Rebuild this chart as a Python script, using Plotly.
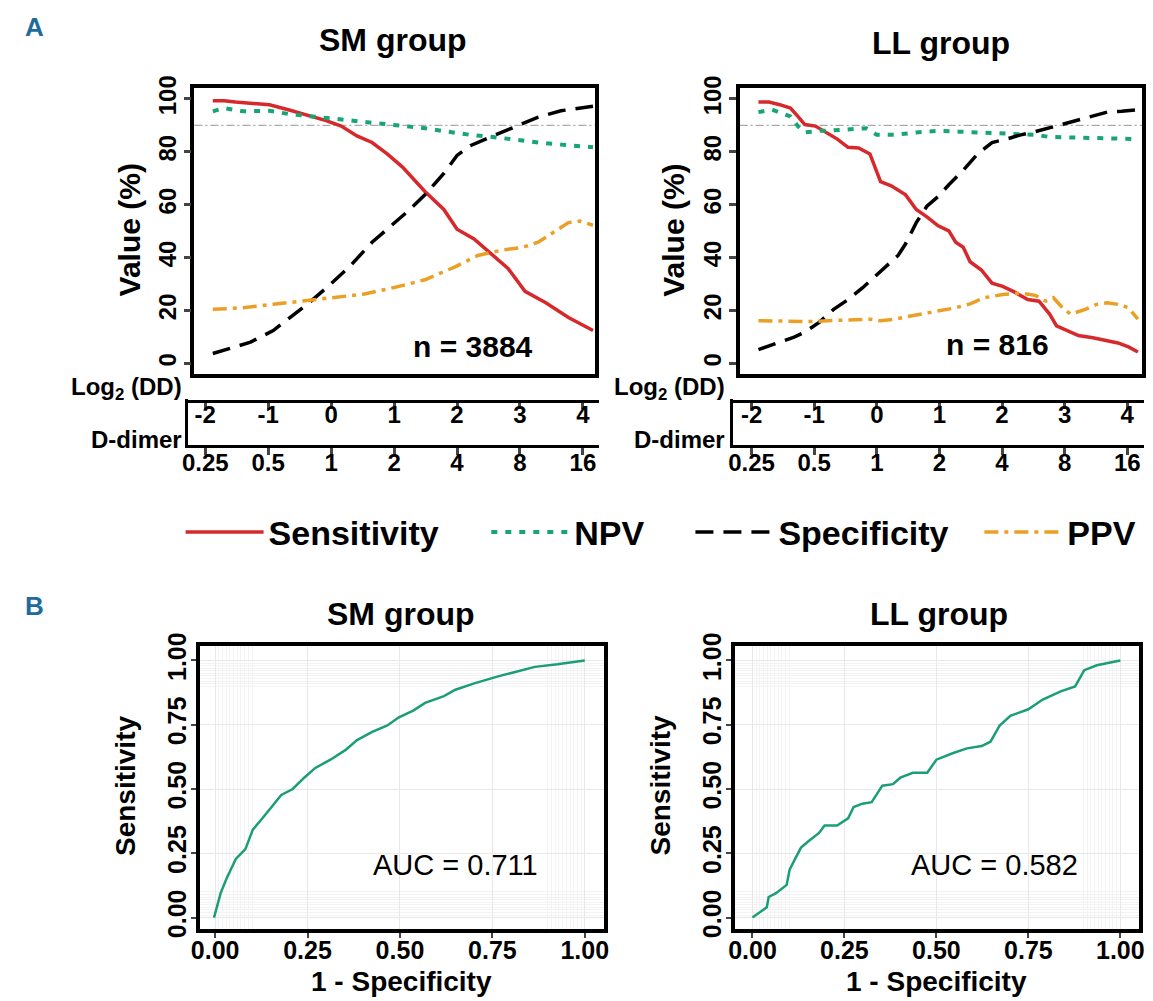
import math
import plotly.graph_objects as go

W, H = 1153, 1001
def fx(p): return p / W
def fy(p): return 1 - p / H

# ---------------- data: panel A, SM group ----------------
sm_sens_x = [-1.88, -1.70, -1.52, -1.28, -0.98, -0.68, -0.38, -0.08, 0.16, 0.41, 0.65, 0.89, 1.13, 1.37, 1.49, 1.79, 2.00, 2.27, 2.57, 2.81, 3.08, 3.41, 3.77, 4.16]
sm_sens   = [99.3, 99.3, 98.8, 98.3, 97.8, 95.9, 93.8, 91.8, 89.7, 86.0, 83.5, 79.2, 74.3, 68.0, 65.0, 58.2, 50.7, 47.0, 40.8, 35.9, 27.2, 22.9, 17.3, 12.4]
sm_npv_x  = [-1.88, -1.70, -1.40, -0.98, -0.68, -0.32, 0.04, 0.41, 0.77, 1.13, 1.49, 1.85, 2.21, 2.57, 2.93, 3.29, 3.65, 4.16]
sm_npv    = [95.3, 96.5, 95.3, 95.5, 94.3, 93.4, 92.5, 91.3, 90.6, 89.7, 88.9, 87.6, 86.4, 85.6, 84.4, 83.5, 82.7, 81.7]
sm_spec_x = [-1.88, -1.52, -1.28, -0.92, -0.56, -0.32, -0.02, 0.29, 0.65, 0.89, 1.19, 1.49, 1.79, 2.00, 2.21, 2.57, 2.93, 3.29, 3.65, 4.16]
sm_spec   = [3.7, 6.2, 8.0, 12.4, 19.2, 23.5, 29.7, 36.5, 45.8, 50.7, 56.9, 63.7, 71.8, 78.6, 82.3, 86.0, 89.7, 93.1, 95.5, 97.2]
sm_ppv_x  = [-1.88, -1.40, -0.92, -0.44, 0.04, 0.53, 1.01, 1.49, 1.97, 2.33, 2.69, 3.05, 3.29, 3.53, 3.77, 3.95, 4.16]
sm_ppv    = [20.4, 21.0, 22.3, 23.5, 24.8, 26.2, 28.7, 31.6, 36.5, 40.8, 42.7, 43.9, 45.8, 49.5, 53.2, 53.8, 52.2]

# ---------------- data: panel A, LL group ----------------
ll_sens_x = [-1.89, -1.72, -1.55, -1.38, -1.26, -1.15, -0.98, -0.80, -0.63, -0.46, -0.29, -0.11, -0.03, 0.06, 0.23, 0.34, 0.46, 0.63, 0.80, 0.98, 1.15, 1.26, 1.38, 1.49, 1.67, 1.84, 2.01, 2.18, 2.41, 2.59, 2.76, 2.87, 3.05, 3.22, 3.45, 3.68, 3.85, 4.02, 4.17]
ll_sens   = [98.8, 98.8, 97.8, 96.5, 93.4, 90.3, 89.7, 87.3, 84.8, 81.7, 81.4, 79.2, 74.3, 68.7, 67.1, 65.6, 63.7, 58.2, 55.4, 52.0, 50.1, 45.8, 43.9, 38.4, 35.3, 30.3, 29.1, 27.2, 24.1, 23.5, 18.6, 14.2, 12.4, 10.5, 9.7, 8.7, 7.7, 6.2, 4.3]
ll_npv_x  = [-1.89, -1.67, -1.38, -1.26, -1.15, -0.92, -0.69, -0.34, -0.17, 0.00, 0.29, 0.63, 0.98, 1.32, 1.72, 2.18, 2.53, 2.76, 3.33, 4.17]
ll_npv    = [95.0, 95.9, 93.4, 89.7, 87.3, 87.9, 88.1, 88.5, 88.9, 86.4, 86.4, 87.3, 87.9, 87.6, 87.3, 86.9, 86.4, 85.6, 85.4, 84.8]
ll_spec_x = [-1.89, -1.61, -1.32, -1.15, -0.92, -0.69, -0.46, -0.23, 0.00, 0.23, 0.34, 0.46, 0.63, 0.80, 0.98, 1.15, 1.38, 1.61, 1.84, 2.07, 2.30, 2.53, 2.76, 2.99, 3.22, 3.45, 3.68, 3.91, 4.17]
ll_spec   = [5.2, 7.4, 9.9, 11.8, 15.5, 20.4, 24.1, 28.5, 33.4, 38.4, 40.8, 45.2, 53.2, 59.4, 63.1, 67.5, 73.0, 79.2, 83.5, 84.8, 86.4, 87.6, 89.1, 90.6, 92.2, 93.8, 95.0, 95.3, 95.9]
ll_ppv_x  = [-1.89, -1.49, -1.03, -0.57, -0.11, 0.06, 0.29, 0.63, 0.98, 1.26, 1.49, 1.72, 2.01, 2.30, 2.53, 2.70, 2.82, 2.99, 3.10, 3.33, 3.51, 3.68, 3.85, 4.02, 4.17]
ll_ppv    = [16.1, 16.1, 15.8, 16.3, 16.7, 16.1, 16.7, 18.3, 19.8, 21.0, 22.5, 24.8, 26.0, 26.6, 25.7, 23.5, 24.8, 20.4, 18.6, 20.4, 22.3, 22.9, 22.3, 21.0, 16.7]

reference_level = 90
log2_ticks = [-2, -1, 0, 1, 2, 3, 4]
log2_labels = ["-2", "-1", "0", "1", "2", "3", "4"]
dd_ticks = [0.25, 0.5, 1, 2, 4, 8, 16]
dd_labels = ["0.25", "0.5", "1", "2", "4", "8", "16"]
value_ticks = [0, 20, 40, 60, 80, 100]

# ---------------- data: panel B, ROC ----------------
sm_fpr = [-0.003, 0.015, 0.031, 0.056, 0.082, 0.102, 0.128, 0.159, 0.179, 0.21, 0.241, 0.271, 0.312, 0.353, 0.384, 0.425, 0.466, 0.496, 0.537, 0.568, 0.619, 0.65, 0.701, 0.763, 0.814, 0.865, 0.926, 1.0]
sm_tpr = [0.0, 0.095, 0.152, 0.228, 0.266, 0.342, 0.386, 0.443, 0.477, 0.5, 0.544, 0.582, 0.614, 0.652, 0.69, 0.722, 0.747, 0.778, 0.806, 0.835, 0.861, 0.886, 0.911, 0.937, 0.956, 0.975, 0.985, 1.0]
ll_fpr = [0.0, 0.039, 0.044, 0.064, 0.093, 0.101, 0.118, 0.132, 0.152, 0.181, 0.196, 0.23, 0.26, 0.275, 0.299, 0.324, 0.353, 0.382, 0.402, 0.436, 0.475, 0.5, 0.544, 0.583, 0.623, 0.647, 0.672, 0.701, 0.75, 0.789, 0.838, 0.877, 0.902, 0.936, 1.0]
ll_tpr = [0.0, 0.04, 0.08, 0.095, 0.127, 0.186, 0.234, 0.272, 0.297, 0.329, 0.358, 0.358, 0.386, 0.43, 0.443, 0.449, 0.513, 0.519, 0.544, 0.563, 0.563, 0.614, 0.639, 0.658, 0.667, 0.684, 0.747, 0.785, 0.81, 0.848, 0.88, 0.899, 0.962, 0.981, 1.0]
roc_ticks = [0, 0.25, 0.5, 0.75, 1.0]
roc_labels = ["0.00", "0.25", "0.50", "0.75", "1.00"]

series_names = ["Sensitivity", "NPV", "Specificity", "PPV"]
auc_sm, auc_ll = "0.711", "0.582"
n_sm, n_ll = 3884, 816

# ---------------- styles ----------------
C_SENS, C_NPV, C_SPEC, C_PPV = "#d7282b", "#17a673", "#000000", "#eaa024"
C_ROC = "#1b9e77"
styles = {
    "Sensitivity": dict(color=C_SENS, width=3.5, dash="solid"),
    "NPV": dict(color=C_NPV, width=4, dash="6px,8px"),
    "Specificity": dict(color=C_SPEC, width=3.5, dash="18px,10px"),
    "PPV": dict(color=C_PPV, width=3.5, dash="14px,6px,4px,6px"),
}
legend_ids = {"Sensitivity": "legend", "NPV": "legend2", "Specificity": "legend3", "PPV": "legend4"}
legend_px = {"Sensitivity": 183, "NPV": 493, "Specificity": 700, "PPV": 993}
FONT = "Liberation Sans"

fig = go.Figure()

panels_a = [
    ("x", "y", [(sm_sens_x, sm_sens), (sm_npv_x, sm_npv), (sm_spec_x, sm_spec), (sm_ppv_x, sm_ppv)], True),
    ("x2", "y2", [(ll_sens_x, ll_sens), (ll_npv_x, ll_npv), (ll_spec_x, ll_spec), (ll_ppv_x, ll_ppv)], False),
]
for xa, ya, data, show in panels_a:
    for name, (xs, ys) in zip(series_names, data):
        fig.add_trace(go.Scatter(x=xs, y=ys, mode="lines", name=name, line=styles[name],
                                 xaxis=xa, yaxis=ya, showlegend=show, legend=legend_ids[name],
                                 hoverinfo="skip"))

fig.add_trace(go.Scatter(x=sm_fpr, y=sm_tpr, mode="lines", line=dict(color=C_ROC, width=2.5),
                         xaxis="x3", yaxis="y3", showlegend=False))
fig.add_trace(go.Scatter(x=ll_fpr, y=ll_tpr, mode="lines", line=dict(color=C_ROC, width=2.5),
                         xaxis="x4", yaxis="y4", showlegend=False))

# invisible traces that realise the two secondary scale axes under each panel
for xa, ya, xs in [("x5", "y7", log2_ticks), ("x6", "y5", dd_ticks),
                   ("x7", "y8", log2_ticks), ("x8", "y6", dd_ticks)]:
    fig.add_trace(go.Scatter(x=xs, y=[0.5] * len(xs), mode="markers", marker=dict(opacity=0),
                             xaxis=xa, yaxis=ya, showlegend=False, hoverinfo="skip"))

tick_font = dict(family=FONT, size=24, color="black", weight="bold")
box = dict(showline=True, linecolor="black", mirror=True, zeroline=False, showgrid=False)

def a_x(l, r, lo_tick, hi_tick):
    per = (hi_tick - lo_tick) / 6.0
    return dict(domain=[fx(l), fx(r)], range=[-2 - (lo_tick - l) / per, 4 + (r - hi_tick) / per],
                showticklabels=False, ticks="", linewidth=3.5, **box)

def a_y(anchor):
    return dict(domain=[fy(369), fy(77)], range=[-4, 104], anchor=anchor, tickvals=value_ticks,
                ticks="outside", ticklen=7, tickwidth=2.5, tickangle=-90, tickfont=tick_font,
                ticklabelstandoff=-2, linewidth=3.5, **box)

layout = dict(
    width=W, height=H, margin=dict(l=0, r=0, t=0, b=0),
    plot_bgcolor="rgba(0,0,0,0)", paper_bgcolor="white",
    xaxis=dict(anchor="y", **a_x(187, 593, 198, 581)),
    yaxis=a_y("x"),
    xaxis2=dict(anchor="y2", **a_x(740, 1148, 752, 1133)),
    yaxis2=a_y("x2"),
)

def sec_axes(l, r, lo_tick, hi_tick, ya_box, ya_line, xa_log2):
    per = (hi_tick - lo_tick) / 6.0
    rng = [-2 - (lo_tick - l) / per, 4 + (r - hi_tick) / per]
    common = dict(domain=[fx(l), fx(r)], showline=True, linecolor="black", linewidth=2.5,
                  ticks="outside", tickwidth=2.5, tickfont=tick_font,
                  showgrid=False, zeroline=False)
    ax_log2 = dict(anchor=ya_line, range=rng, tickvals=log2_ticks, ticktext=log2_labels,
                   ticklen=6, ticklabelstandoff=-14, **common)
    ax_dd = dict(anchor=ya_box, type="log", range=[math.log10(2 ** rng[0]), math.log10(2 ** rng[1])],
                 tickvals=dd_ticks, ticktext=dd_labels, ticklen=7, ticklabelstandoff=-13, **common)
    ax_box = dict(domain=[fy(442), fy(395)], anchor=xa_log2, range=[0, 1], showline=True,
                  linecolor="black", linewidth=2.5, showticklabels=False, ticks="",
                  showgrid=False, zeroline=False)
    ax_line = dict(domain=[fy(395.5), fy(395)], anchor=xa_log2, range=[0, 1], visible=False)
    return ax_log2, ax_dd, ax_box, ax_line

layout["xaxis5"], layout["xaxis6"], layout["yaxis5"], layout["yaxis7"] = sec_axes(181, 597, 198, 581, "y5", "y7", "x5")
layout["xaxis7"], layout["xaxis8"], layout["yaxis6"], layout["yaxis8"] = sec_axes(733, 1150, 752, 1133, "y6", "y8", "x7")

minor_vals = [i / 100 for i in range(0, 11)] + [i / 100 for i in range(90, 101)]
def roc_axis(dom, rng, anchor, is_y):
    d = dict(domain=dom, range=rng, anchor=anchor, tickvals=roc_ticks, ticktext=roc_labels,
             ticks="outside", ticklen=5, tickwidth=2,
             tickfont=dict(family=FONT, size=25, color="black", weight="bold"),
             ticklabelstandoff=-9 if not is_y else -5,
             showline=True, linecolor="black", linewidth=4, mirror=True, zeroline=False,
             showgrid=True, gridcolor="#e8e8e8", gridwidth=1,
             minor=dict(tickvals=minor_vals, showgrid=True, gridcolor="#f3f3f3", gridwidth=0.6, ticks=""))
    if is_y:
        d["tickangle"] = -90
    return d

layout["xaxis3"] = roc_axis([fx(193), fx(602)], [-0.04, 1.051], "y3", False)
layout["yaxis3"] = roc_axis([fy(937), fy(647)], [-0.046, 1.057], "x3", True)
layout["xaxis4"] = roc_axis([fx(735), fx(1145)], [-0.048, 1.051], "y4", False)
layout["yaxis4"] = roc_axis([fy(937), fy(647)], [-0.046, 1.057], "x4", True)

for name in series_names:
    layout[legend_ids[name]] = dict(orientation="h", x=fx(legend_px[name] - 10), y=fy(531),
                                    xanchor="left", yanchor="middle", itemwidth=78,
                                    font=dict(family=FONT, size=34, color="black", weight="bold"),
                                    bgcolor="rgba(0,0,0,0)")

fig.update_layout(**layout)

for ref in ["x", "x2"]:
    ya = "y" if ref == "x" else "y2"
    fig.add_shape(type="line", xref=f"{ref} domain", yref=ya, x0=0, x1=1, y0=reference_level, y1=reference_level,
                  line=dict(color="#aaaaaa", width=1.2, dash="8px,3px,2px,3px"), layer="below")

def ann(text, x, y, size, bold=True, color="black", xanchor="center", angle=0):
    fig.add_annotation(text=text, x=fx(x), y=fy(y), xref="paper", yref="paper", showarrow=False,
                       xanchor=xanchor, yanchor="middle", textangle=angle,
                       font=dict(family=FONT, size=size, color=color, weight="bold" if bold else "normal"))

PANEL_BLUE = "#1f6c9c"
ann("A", 13, 14, 26, color=PANEL_BLUE, xanchor="left")
ann("B", 13, 606, 26, color=PANEL_BLUE, xanchor="left")
ann("SM group", 388, 28, 32)
ann("LL group", 944, 31, 32)
ann("SM group", 397, 614, 32)
ann("LL group", 942, 614, 32)
ann("Value (%)", 121, 222, 30, angle=-90)
ann("Value (%)", 672, 222, 30, angle=-90)
ann(f"n = {n_sm}", 470, 341, 30)
ann(f"n = {n_ll}", 1001, 339, 30)
ann("Log<sub>2</sub> (DD)", 176, 384, 24, xanchor="right")
ann("D-dimer", 176, 436, 24, xanchor="right")
ann("Log<sub>2</sub> (DD)", 727, 384, 24, xanchor="right")
ann("D-dimer", 727, 436, 24, xanchor="right")
ann("Sensitivity", 117, 790, 28, angle=-90)
ann("Sensitivity", 660, 790, 28, angle=-90)
ann("1 - Specificity", 397, 990, 28)
ann("1 - Specificity", 940, 990, 28)
ann(f"AUC = {auc_sm}", 452, 871, 29, bold=False)
ann(f"AUC = {auc_ll}", 998, 871, 29, bold=False)

fig.write_html("out.html", config={"displayModeBar": False},
               post_script="document.body.style.margin='0';document.body.style.overflow='hidden';")
